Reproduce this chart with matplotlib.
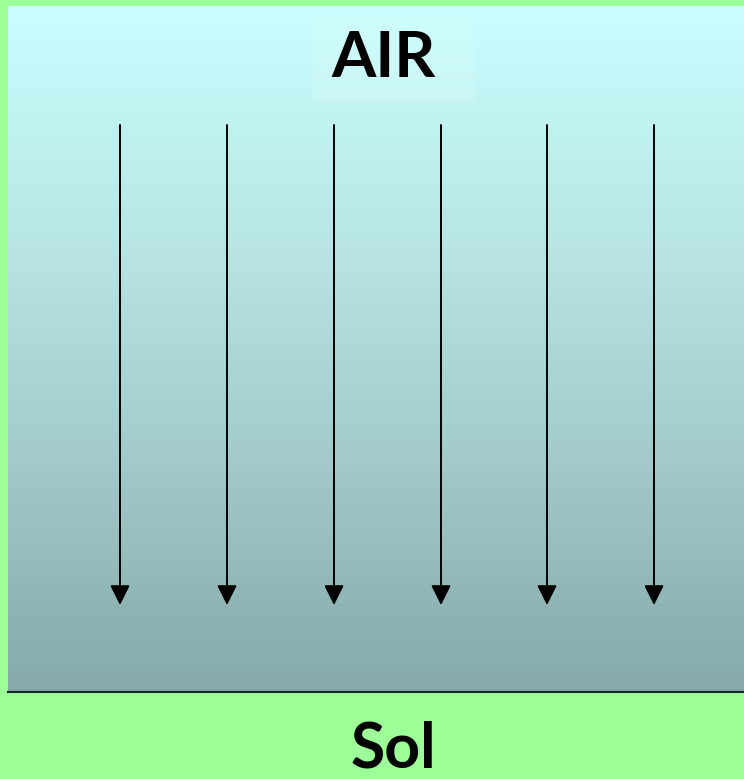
import numpy as np
import matplotlib
matplotlib.use("Agg")
import matplotlib.pyplot as plt
from matplotlib.colors import LinearSegmentedColormap
from matplotlib.patches import Rectangle

# --- données ---
titre_haut = "AIR"
titre_bas = "Sol"
arrow_x = [120, 227, 334, 441, 547, 654]
arrow_top = 125
arrow_bottom = 605

# --- figure en coordonnées pixel ---
W, H = 744, 779
fig = plt.figure(figsize=(W / 100, H / 100), dpi=100, facecolor="#9dff97")
ax = fig.add_axes([0, 0, 1, 1])
ax.set_xlim(0, W)
ax.set_ylim(H, 0)
ax.axis("off")

# fond en dégradé (air)
cmap = LinearSegmentedColormap.from_list("air", ["#c9ffff", "#b9e6e6", "#a2caca", "#86a8a8"])
grad = np.linspace(0, 1, 256).reshape(-1, 1)
ax.imshow(grad, cmap=cmap, extent=(8, 744, 692, 6), aspect="auto", zorder=1)
ax.plot([8, 744], [692, 692], color="#1a2626", lw=1.5, zorder=2)

# cadre clair derrière le titre
ax.add_patch(Rectangle((313, 15), 161, 88, facecolor="white", alpha=0.12,
                       edgecolor="none", zorder=2))
ax.text(383, 58, titre_haut, ha="center", va="center", fontsize=46,
        fontweight="bold", family="Lato", color="black", zorder=3)

# flèches verticales
for x in arrow_x:
    ax.annotate("", xy=(x, arrow_bottom), xytext=(x, arrow_top),
                arrowprops=dict(arrowstyle="-|>", color="black", lw=1.4,
                                mutation_scale=30, shrinkA=0, shrinkB=0),
                zorder=4)

ax.text(393, 750, titre_bas, ha="center", va="center", fontsize=45,
        fontweight="bold", family="Lato", color="black", zorder=3)

fig.savefig("out.png", dpi=100, facecolor=fig.get_facecolor())
plt.close(fig)
